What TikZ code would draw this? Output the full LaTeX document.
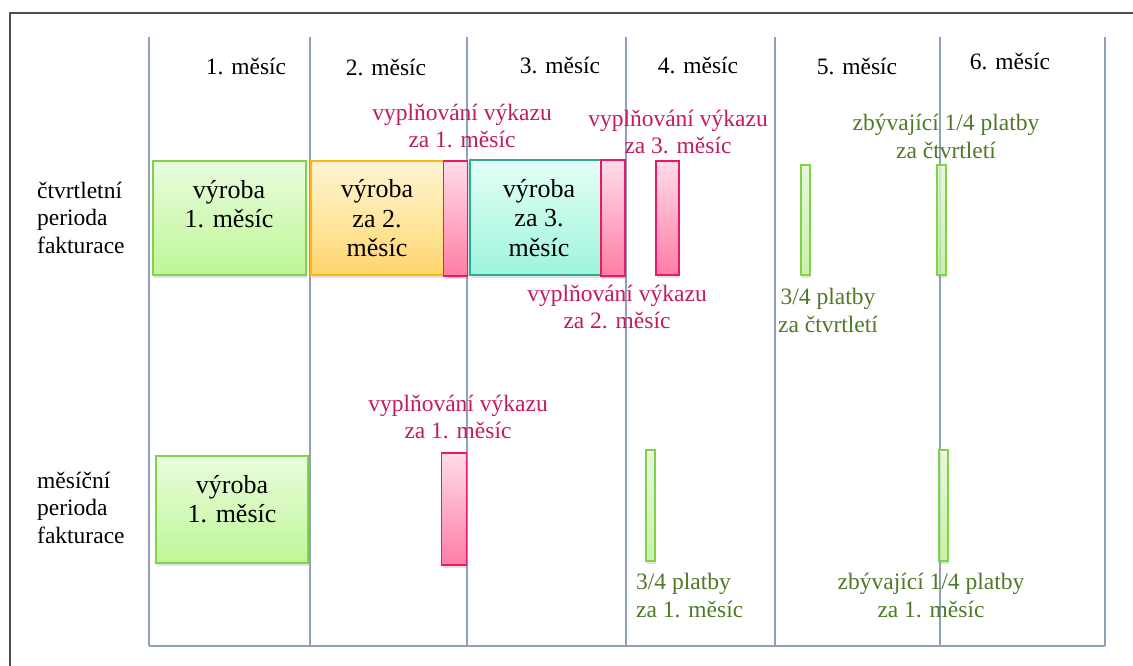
\documentclass[tikz,border=0pt]{standalone}
\usepackage{fontspec}
\setmainfont{Liberation Serif}
\usetikzlibrary{shadows}
\definecolor{gridc}{RGB}{145,160,185}
\definecolor{framec}{RGB}{80,80,80}
\definecolor{pinktxt}{RGB}{196,26,96}
\definecolor{greentxt}{RGB}{78,122,38}
\definecolor{pinkb}{RGB}{232,25,107}
\definecolor{pinkt}{RGB}{255,220,232}
\definecolor{pinkbot}{RGB}{255,125,165}
\definecolor{greenb}{RGB}{128,210,70}
\definecolor{greent}{RGB}{234,252,222}
\definecolor{greenbot}{RGB}{190,247,150}
\definecolor{orangeb}{RGB}{255,181,15}
\definecolor{oranget}{RGB}{255,245,212}
\definecolor{orangebot}{RGB}{255,214,110}
\definecolor{tealb}{RGB}{50,170,146}
\definecolor{tealt}{RGB}{228,255,246}
\definecolor{tealbot}{RGB}{158,245,220}
\tikzset{
  gridline/.style={draw=gridc, line width=1.8pt},
  bar/.style={draw, line width=1.6pt, inner sep=0pt, outer sep=0pt,
    drop shadow={opacity=0.22, shadow xshift=1pt, shadow yshift=-2.5pt}},
  pinkbar/.style={bar, draw=pinkb, top color=pinkt, bottom color=pinkbot},
  greenbox/.style={bar, draw=greenb, top color=greent, bottom color=greenbot},
  greenthin/.style={bar, draw=greenb, top color=greent, bottom color=greenbot, fill opacity=0.75},
  orangebox/.style={bar, draw=orangeb, top color=oranget, bottom color=orangebot},
  tealbox/.style={bar, draw=tealb, top color=tealt, bottom color=tealbot},
  lbl/.style={font=\fontsize{23.5}{27.5}\selectfont, align=center, inner sep=0pt},
  pinklbl/.style={lbl, text=pinktxt},
  greenlbl/.style={lbl, text=greentxt},
  boxtxt/.style={font=\fontsize{26}{29.5}\selectfont, align=center, inner sep=0pt},
}
\begin{document}
\begin{tikzpicture}[x=1pt,y=-1pt]
\useasboundingbox (0,0) rectangle (1133,666);
% frame
\draw[framec, line width=1.3pt] (10,666) -- (10,13) -- (1133,13);
% grid
\foreach \x in {149,310,467,626,775,940,1105}
  \draw[gridline] (\x,37) -- (\x,646);
\draw[gridline] (149,646) -- (1105,646);

% month headers
\node[lbl] (m1) at (246,69.5) {\strut 1. měsíc};
\node[lbl] (m2) at (386,70.5) {\strut 2. měsíc};
\node[lbl] (m3) at (560,68.5) {\strut 3. měsíc};
\node[lbl] (m4) at (698,68.5) {\strut 4. měsíc};
\node[lbl] (m5) at (857,69.5) {\strut 5. měsíc};
\node[lbl] (m6) at (1010,64.5) {\strut 6. měsíc};

% row labels
\node[lbl, align=left, anchor=west] (r1) at (37,220) {\strut čtvrtletní\\\strut perioda\\\strut fakturace};
\node[lbl, align=left, anchor=west] (r2) at (37,510) {\strut měsíční\\\strut perioda\\\strut fakturace};

% row 1 boxes
\node[greenbox, minimum width=153pt, minimum height=114pt] (g1) at (229.5,218) {};
\node[orangebox, minimum width=150pt, minimum height=114pt] (o2) at (386,218) {};
\node[pinkbar, minimum width=24pt, minimum height=115pt] (p1) at (455.5,218.5) {};
\node[tealbox, minimum width=155pt, minimum height=115pt] (t3) at (547.5,217.5) {};
\node[pinkbar, minimum width=24pt, minimum height=116pt] (p2) at (613,218) {};
\node[pinkbar, minimum width=23pt, minimum height=114pt] (p3) at (667.5,218) {};
\node[greenthin, minimum width=9.5pt, minimum height=110pt] (gb1) at (805.5,220) {};
\node[greenthin, minimum width=9.5pt, minimum height=110pt] (gb2) at (941.5,220) {};

\node[boxtxt] (g1t) at (229,207) {\strut výroba\\\strut 1. měsíc};
\node[boxtxt] (o2t) at (377,221.5) {\strut výroba\\\strut za 2.\\\strut měsíc};
\node[boxtxt] (t3t) at (539,221) {\strut výroba\\\strut za 3.\\\strut měsíc};

% row 1 labels
\node[pinklbl] (p1l) at (462,128.5) {\strut vyplňování výkazu\\\strut za 1. měsíc};
\node[pinklbl] (p3l) at (678,134.5) {\strut vyplňování výkazu\\\strut za 3. měsíc};
\node[pinklbl] (p2l) at (617,309.5) {\strut vyplňování výkazu\\\strut za 2. měsíc};
\node[greenlbl] (gb2l) at (946,139) {\strut zbývající 1/4 platby\\\strut za čtvrtletí};
\node[greenlbl] (gb1l) at (828,313) {\strut 3/4 platby\\\strut za čtvrtletí};

% row 2 boxes
\node[greenbox, minimum width=152pt, minimum height=107pt] (g2) at (232,509.5) {};
\node[pinkbar, minimum width=25pt, minimum height=112pt] (p4) at (454,509) {};
\node[greenthin, minimum width=9.5pt, minimum height=111pt] (gb3) at (650.5,505.5) {};
\node[greenthin, minimum width=9.5pt, minimum height=111pt] (gb4) at (943.5,505.5) {};

\node[boxtxt] (g2t) at (232,502) {\strut výroba\\\strut 1. měsíc};

% row 2 labels
\node[pinklbl] (p4l) at (458,419.5) {\strut vyplňování výkazu\\\strut za 1. měsíc};
\node[greenlbl, align=left, anchor=west] (gb3l) at (636,598) {\strut 3/4 platby\\\strut za 1. měsíc};
\node[greenlbl] (gb4l) at (931,598) {\strut zbývající 1/4 platby\\\strut za 1. měsíc};
\end{tikzpicture}
\end{document}
